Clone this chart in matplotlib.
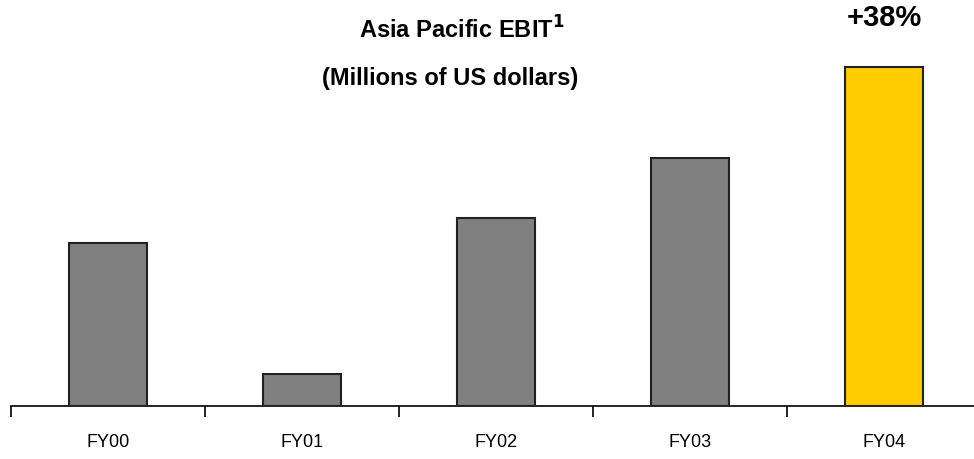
import matplotlib
matplotlib.use("Agg")
import matplotlib.pyplot as plt
import numpy as np

categories = ["FY00", "FY01", "FY02", "FY03", "FY04"]
values = [163, 32, 188, 248, 339]
colors = ["#808080", "#808080", "#808080", "#808080", "#FFCC00"]

plt.rcParams['font.family'] = ['Liberation Sans', 'DejaVu Sans']

fig = plt.figure(figsize=(9.74, 4.59), dpi=100)
W, H = 974, 459
left_px, base_px, top_px = 11, 406, 0
ax = fig.add_axes([left_px / W, (H - base_px) / H, 970 / W, (base_px - top_px) / H])

x = np.arange(len(categories))
ax.bar(x, values, width=0.4, color=colors, edgecolor="#222222", linewidth=1.5, zorder=3)
ax.set_xlim(-0.5, 4.5)
ax.set_ylim(0, 406)

for s in ["top", "right", "left"]:
    ax.spines[s].set_visible(False)
ax.spines["bottom"].set_linewidth(1.2)
ax.set_yticks([])
ax.set_xticks(np.arange(-0.5, 5, 1.0))
ax.set_xticklabels([])
ax.tick_params(axis="x", which="major", length=8, width=1.2, direction="out")
ax.set_xticks(x, minor=True)
ax.set_xticklabels(categories, minor=True, fontsize=13)
ax.tick_params(axis="x", which="minor", length=0, pad=20)

fig.text(462 / W, 1 - 30 / H, r"Asia Pacific EBIT$^{\mathbf{1}}$", ha="center", va="center",
         fontsize=17, fontweight="bold")
fig.text(450 / W, 1 - 78 / H, "(Millions of US dollars)", ha="center", va="center",
         fontsize=17, fontweight="bold")
ax.annotate("+38%", xy=(4, values[4]), xytext=(0, 35), textcoords="offset points",
            ha="center", va="center", fontsize=21, fontweight="bold", annotation_clip=False)

fig.savefig("out.png", dpi=100)
